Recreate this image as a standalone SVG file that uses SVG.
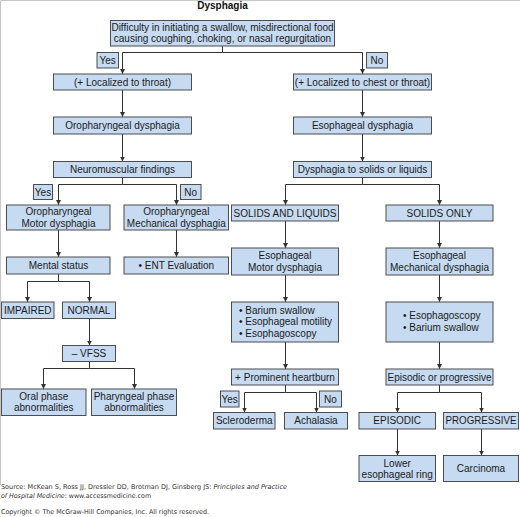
<svg xmlns="http://www.w3.org/2000/svg" width="520" height="517" viewBox="0 0 520 517">
<style>
.b{fill:#c6daf1;stroke:#4d4d4d;stroke-width:1}
.t{font-family:"Liberation Sans",Arial,sans-serif;font-size:10px;fill:#1a1a1a;text-anchor:middle}
.l{text-anchor:start}
.c{fill:none;stroke:#333;stroke-width:1}
.a{marker-end:url(#ah)}
.f{font-family:"DejaVu Sans",Verdana,sans-serif;font-size:6.6px;fill:#333}
</style>
<defs>
<marker id="ah" markerUnits="userSpaceOnUse" markerWidth="6" markerHeight="6" refX="5" refY="3" orient="auto">
<path d="M0,0.5 L5,3 L0,5.5 z" fill="#333"/>
</marker>
</defs>
<rect width="520" height="517" fill="#fff"/>
<path d="M0.5,485 V0.5 H520" fill="none" stroke="#c8c8c8" stroke-width="1"/>
<text x="222.5" y="9" style="font-family:'Liberation Sans',Arial,sans-serif;font-size:10px;font-weight:bold;text-anchor:middle;fill:#111">Dysphagia</text>

<g id="connectors">
<path class="c" d="M222.5,46 V52.5 H122.5"/>
<path class="c a" d="M122.5,52.5 V74"/>
<path class="c a" d="M222.5,52.5 H362.5 V74"/>
<path class="c a" d="M122.5,90 V117"/>
<path class="c a" d="M362.5,90 V117"/>
<path class="c a" d="M122.5,134 V161.5"/>
<path class="c a" d="M362.5,134 V161.5"/>
<path class="c" d="M122.5,177.5 V184.5 H58.5"/>
<path class="c a" d="M58.5,184.5 V205"/>
<path class="c a" d="M122.5,184.5 H176.5 V205"/>
<path class="c" d="M362.5,177.5 V184.5 H285.5"/>
<path class="c a" d="M285.5,184.5 V205"/>
<path class="c a" d="M362.5,184.5 H439.5 V205"/>
<path class="c a" d="M58.5,230 V257"/>
<path class="c a" d="M176.5,230 V257"/>
<path class="c a" d="M285.5,221 V248"/>
<path class="c a" d="M439.5,221 V248"/>
<path class="c" d="M58.5,274 V281.5 H27.5"/>
<path class="c a" d="M27.5,281.5 V302"/>
<path class="c a" d="M58.5,281.5 H89.5 V302"/>
<path class="c a" d="M89.5,318.5 V345.5"/>
<path class="c" d="M89.5,361.5 V368.5 H43.5"/>
<path class="c a" d="M43.5,368.5 V389"/>
<path class="c a" d="M89.5,368.5 H134.5 V389"/>
<path class="c a" d="M285.5,275 V302"/>
<path class="c a" d="M439.5,275 V302"/>
<path class="c a" d="M285.5,342 V369"/>
<path class="c a" d="M439.5,342 V369"/>
<path class="c" d="M285.5,385 V392.5 H244.5"/>
<path class="c a" d="M244.5,392.5 V412.5"/>
<path class="c a" d="M285.5,392.5 H316.5 V412.5"/>
<path class="c" d="M439.5,385 V392.5 H397.5"/>
<path class="c a" d="M397.5,392.5 V412.5"/>
<path class="c a" d="M439.5,392.5 H481.5 V412.5"/>
<path class="c a" d="M397.5,429 V455.5"/>
<path class="c a" d="M481.5,429 V455.5"/>
</g>

<g id="n-top"><rect class="b" x="110.5" y="20.5" width="224" height="25.5"/><text class="t" x="222.5" y="30.8">Difficulty in initiating a swallow, misdirectional food</text><text class="t" x="222.5" y="42.3">causing coughing, choking, or nasal regurgitation</text></g>
<g id="l-yes1"><rect class="b" x="97" y="52.5" width="21.5" height="15.5"/><text class="t" x="107.7" y="63.8">Yes</text></g>
<g id="l-no1"><rect class="b" x="366.5" y="52.5" width="21" height="15.5"/><text class="t" x="377" y="63.8">No</text></g>
<g id="n-throat"><rect class="b" x="53.5" y="74" width="138" height="16"/><text class="t" x="122.5" y="85.5">(+ Localized to throat)</text></g>
<g id="n-chest"><rect class="b" x="293.5" y="74" width="138" height="16"/><text class="t" x="362.5" y="85.5">(+ Localized to chest or throat)</text></g>
<g id="n-oro"><rect class="b" x="53.5" y="117" width="138" height="17"/><text class="t" x="122.5" y="129">Oropharyngeal dysphagia</text></g>
<g id="n-eso"><rect class="b" x="293.5" y="117" width="138" height="17"/><text class="t" x="362.5" y="129">Esophageal dysphagia</text></g>
<g id="n-neuro"><rect class="b" x="53.5" y="161.5" width="138" height="16"/><text class="t" x="122.5" y="173">Neuromuscular findings</text></g>
<g id="n-sol"><rect class="b" x="293.5" y="161.5" width="138" height="16"/><text class="t" x="362.5" y="173">Dysphagia to solids or liquids</text></g>
<g id="l-yes2"><rect class="b" x="33.5" y="184.5" width="19" height="15"/><text class="t" x="43" y="195.5">Yes</text></g>
<g id="l-no2"><rect class="b" x="180.5" y="184.5" width="20.5" height="15"/><text class="t" x="190.7" y="195.5">No</text></g>
<g id="n-omotor"><rect class="b" x="6.5" y="205" width="103.5" height="25"/><text class="t" x="58.5" y="215.3">Oropharyngeal</text><text class="t" x="58.5" y="226.8">Motor dysphagia</text></g>
<g id="n-omech"><rect class="b" x="124" y="205" width="104.5" height="25"/><text class="t" x="176.3" y="215.3">Oropharyngeal</text><text class="t" x="176.3" y="226.8">Mechanical dysphagia</text></g>
<g id="n-sl"><rect class="b" x="231.5" y="205" width="107" height="16"/><text class="t" x="285" y="216.5">SOLIDS AND LIQUIDS</text></g>
<g id="n-so"><rect class="b" x="386" y="205" width="107" height="16"/><text class="t" x="439.5" y="216.5">SOLIDS ONLY</text></g>
<g id="n-mental"><rect class="b" x="6.5" y="257" width="103.5" height="17"/><text class="t" x="58.5" y="269">Mental status</text></g>
<g id="n-ent"><rect class="b" x="124" y="257" width="104.5" height="17"/><text class="t" x="176.3" y="269">• ENT Evaluation</text></g>
<g id="n-emotor"><rect class="b" x="231.5" y="248" width="107" height="27"/><text class="t" x="285" y="259.3">Esophageal</text><text class="t" x="285" y="270.8">Motor dysphagia</text></g>
<g id="n-emech"><rect class="b" x="386" y="248" width="107" height="27"/><text class="t" x="439.5" y="259.3">Esophageal</text><text class="t" x="439.5" y="270.8">Mechanical dysphagia</text></g>
<g id="n-impaired"><rect class="b" x="1.5" y="302" width="52.5" height="16.5"/><text class="t" x="27.75" y="313.8">IMPAIRED</text></g>
<g id="n-normal"><rect class="b" x="62.5" y="302" width="53" height="16.5"/><text class="t" x="89" y="313.8">NORMAL</text></g>
<g id="n-barium"><rect class="b" x="231.5" y="302" width="107" height="40"/><text class="t l" x="239" y="313.5">• Barium swallow</text><text class="t l" x="239" y="325.2">• Esophageal motility</text><text class="t l" x="239" y="336.9">• Esophagoscopy</text></g>
<g id="n-scopy"><rect class="b" x="386" y="302" width="107" height="40"/><text class="t l" x="403" y="319.2">• Esophagoscopy</text><text class="t l" x="403" y="330.9">• Barium swallow</text></g>
<g id="n-vfss"><rect class="b" x="62.5" y="345.5" width="53" height="16"/><text class="t" x="89" y="357">– VFSS</text></g>
<g id="n-heart"><rect class="b" x="231.5" y="369" width="107" height="16"/><text class="t" x="285" y="380.5">+ Prominent heartburn</text></g>
<g id="n-epi"><rect class="b" x="386" y="369" width="107" height="16"/><text class="t" x="439.5" y="380.5">Episodic or progressive</text></g>
<g id="n-oral"><rect class="b" x="1.5" y="389" width="84.5" height="26.5"/><text class="t" x="43.75" y="399.7">Oral phase</text><text class="t" x="43.75" y="411.2">abnormalities</text></g>
<g id="n-phar"><rect class="b" x="91.5" y="389" width="85" height="26.5"/><text class="t" x="134" y="399.7">Pharyngeal phase</text><text class="t" x="134" y="411.2">abnormalities</text></g>
<g id="l-yes3"><rect class="b" x="220.5" y="391" width="18.5" height="16"/><text class="t" x="229.7" y="402.5">Yes</text></g>
<g id="l-no3"><rect class="b" x="319.5" y="391" width="22" height="16"/><text class="t" x="330.5" y="402.5">No</text></g>
<g id="n-sclero"><rect class="b" x="213.5" y="412.5" width="61.5" height="16.5"/><text class="t" x="244.3" y="424.3">Scleroderma</text></g>
<g id="n-achal"><rect class="b" x="284.5" y="412.5" width="63" height="16.5"/><text class="t" x="316" y="424.3">Achalasia</text></g>
<g id="n-episodic"><rect class="b" x="359" y="412.5" width="76.5" height="16.5"/><text class="t" x="397.2" y="424.3">EPISODIC</text></g>
<g id="n-prog"><rect class="b" x="443.5" y="412.5" width="75" height="16.5"/><text class="t" x="481" y="424.3" textLength="71" lengthAdjust="spacingAndGlyphs">PROGRESSIVE</text></g>
<g id="n-ring"><rect class="b" x="359" y="455.5" width="76.5" height="26"/><text class="t" x="397.2" y="466.5">Lower</text><text class="t" x="397.2" y="478">esophageal ring</text></g>
<g id="n-carc"><rect class="b" x="443.5" y="455.5" width="75" height="26"/><text class="t" x="481" y="472">Carcinoma</text></g>

<text class="f" x="1" y="489" textLength="286" lengthAdjust="spacingAndGlyphs">Source: McKean S, Ross JJ, Dressler DD, Brotman DJ, Ginsberg JS: <tspan font-style="italic">Principles and Practice</tspan></text>
<text class="f" x="1" y="497.5" textLength="150" lengthAdjust="spacingAndGlyphs"><tspan font-style="italic">of Hospital Medicine</tspan>: www.accessmedicine.com</text>
<text class="f" x="1" y="514" textLength="208" lengthAdjust="spacingAndGlyphs">Copyright © The McGraw-Hill Companies, Inc. All rights reserved.</text>
</svg>
